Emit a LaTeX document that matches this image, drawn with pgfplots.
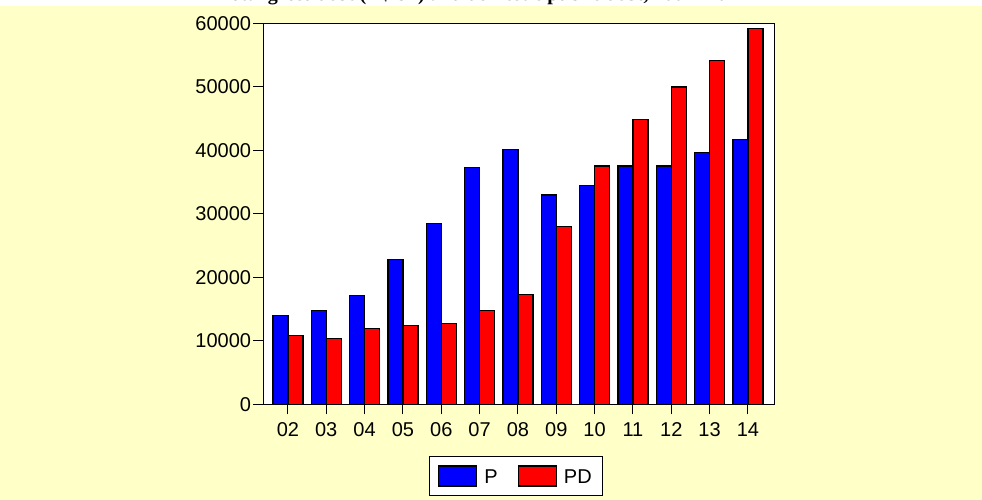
\documentclass[border=0pt]{standalone}
\usepackage{fontspec}
\setmainfont{Liberation Sans}
\newfontfamily\titlefont{Liberation Serif}
\usepackage{pgfplots}
\pgfplotsset{compat=1.18}
\usepackage{pgfplotstable}
\definecolor{bgyellow}{RGB}{255,255,200}
\definecolor{pblue}{RGB}{0,0,255}
\definecolor{pdred}{RGB}{255,0,0}
\pgfplotstableread{
x P PD
0 14060 10910
1 14800 10390
2 17170 11970
3 22880 12490
4 28550 12760
5 37320 14740
6 40160 17300
7 32960 27970
8 34490 37530
9 37530 44820
10 37530 49970
11 39620 54110
12 41730 59210
}\datatable
\pgfplotsset{mylegend/.style={legend image code/.code={\draw[##1,/tikz/.cd,draw=black,line width=1.2pt] (0pt,-9pt) rectangle (38pt,11pt);}}}
\begin{document}
\begin{tikzpicture}[x=1pt,y=1pt]
\path[use as bounding box] (0,0) rectangle (982,500);
\fill[white] (0,0) rectangle (982,500);
\fill[bgyellow] (0,0) rectangle (982,494);
\begin{scope}
\clip (0,0) rectangle (982,500);
\node[anchor=base, inner sep=0pt, font=\titlefont\bfseries\fontsize{20}{24}\selectfont] at (483,499.5) {Total gross debt (R\$ bn) and domestic public debt, 2002--2014};
\end{scope}
\begin{axis}[
 at={(263.3pt,95.5pt)}, anchor=south west,
 scale only axis, width=511.1pt, height=381.2pt,
 ybar=0pt, bar width=15pt,
 xmin=-0.642, xmax=12.69, ymin=0, ymax=60000,
 xtick={0,...,12},
 xticklabels={02,03,04,05,06,07,08,09,10,11,12,13,14},
 ytick={0,10000,20000,30000,40000,50000,60000},
 scaled y ticks=false,
 /pgf/number format/.cd, 1000 sep={}, assume math mode=true, /pgfplots/.cd,
 tick label style={font=\fontsize{20}{24}\selectfont, black},
 xticklabel style={inner ysep=8pt},
 yticklabel style={inner xsep=2pt},
 tick align=outside, tick pos=left, major tick length=10pt,
 tick style={black, line width=1pt},
 axis line style={black, line width=1.2pt},
 axis background/.style={fill=white},
 legend columns=2,
 legend style={at={(axis description cs:0.4944,-0.1877)}, anchor=center,
   draw=black, line width=1pt, fill=white,
   inner xsep=9pt, inner ysep=8.5pt,
   font=\fontsize{20}{24}\selectfont,
   /tikz/every odd column/.append style={column sep=5pt},
   /tikz/every even column/.append style={column sep=18pt}},
]
\addplot[fill=pblue, draw=black, line width=1.2pt, mylegend] table[x=x,y=P]{\datatable};
\addplot[fill=pdred, draw=black, line width=1.2pt, mylegend] table[x=x,y=PD]{\datatable};
\legend{P,PD}
\end{axis}
\end{tikzpicture}
\end{document}
